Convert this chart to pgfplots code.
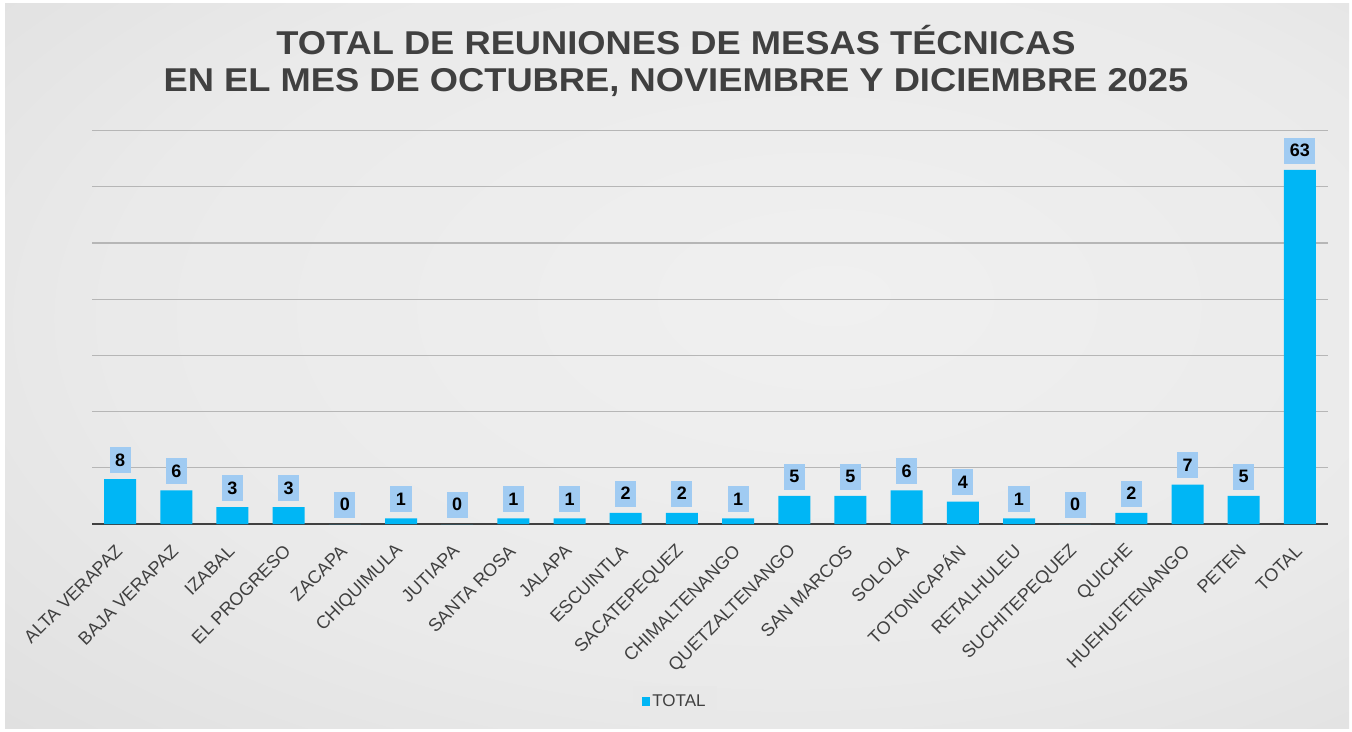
\documentclass[border=0pt]{standalone}
\usepackage{fontspec}
\setmainfont{Liberation Sans}
\newfontfamily\titlefont{Liberation Sans}[FakeStretch=1.1]
\usepackage{pgfplots}
\pgfplotsset{compat=1.18}
\definecolor{barblue}{HTML}{00B6F5}
\definecolor{boxblue}{HTML}{A0CBF2}
\definecolor{txtgray}{HTML}{404040}
\definecolor{gridgray}{HTML}{B6B6B6}
\definecolor{bg0}{HTML}{F0F0F0}
\definecolor{bg1}{HTML}{EAEAEA}
\definecolor{bg2}{HTML}{DCDCDC}
\definecolor{bg3}{HTML}{C9C9C9}
\definecolor{bg4}{HTML}{BEBEBE}
\definecolor{legfill}{HTML}{E8E8E8}
\pgfdeclareradialshading{bgshade}{\pgfpoint{6bp}{5bp}}{color(0bp)=(bg0); color(25bp)=(bg1); color(45bp)=(bg2); color(57bp)=(bg3); color(75bp)=(bg4); color(80bp)=(bg4)}
\pgfplotstableread{
x val
0 8
1 6
2 3
3 3
4 0
5 1
6 0
7 1
8 1
9 2
10 2
11 1
12 5
13 5
14 6
15 4
16 1
17 0
18 2
19 7
20 5
21 63
}\datatab
\begin{document}
\begin{tikzpicture}[x=1pt,y=1pt]
\useasboundingbox (0,0) rectangle (1352,731);
\fill[white] (0,0) rectangle (1352,731);
\shade[shading=bgshade] (5,3) rectangle (1349,727);
\node[anchor=base, font=\titlefont\fontsize{33}{37}\selectfont\bfseries, text=txtgray] at (676,676) {TOTAL DE REUNIONES DE MESAS TÉCNICAS};
\node[anchor=base, font=\titlefont\fontsize{33}{37}\selectfont\bfseries, text=txtgray] at (676,639.3) {EN EL MES DE OCTUBRE, NOVIEMBRE Y DICIEMBRE 2025};
\begin{axis}[
  at={(92pt,207pt)}, anchor=south west,
  scale only axis, width=1236pt, height=393.4pt,
  xmin=-0.5, xmax=21.5, ymin=0, ymax=70,
  ybar, bar width=32pt,
  /pgf/number format/assume math mode=true,
  axis x line*=bottom, axis y line*=left,
  y axis line style={draw=none},
  x axis line style={draw=txtgray, line width=2pt},
  ytick={0,10,...,70}, yticklabels={},
  major tick length=0pt,
  ymajorgrids, grid style={draw=gridgray, line width=1.2pt},
  xtick={0,...,21},
  xticklabels={ALTA VERAPAZ, BAJA VERAPAZ, IZABAL, EL PROGRESO, ZACAPA, CHIQUIMULA, JUTIAPA, SANTA ROSA, JALAPA, ESCUINTLA, SACATEPEQUEZ, CHIMALTENANGO, QUETZALTENANGO, SAN MARCOS, SOLOLA, TOTONICAPÁN, RETALHULEU, SUCHITEPEQUEZ, QUICHE, HUEHUETENANGO, PETEN, TOTAL},
  xticklabel style={yshift=-24pt, xshift=-1pt, rotate=45, anchor=east, font=\fontsize{18}{20}\selectfont, text=txtgray, inner sep=0pt},
  nodes near coords,
  every node near coord/.append style={fill=boxblue, font=\fontsize{18}{20}\selectfont\bfseries, text=black, inner xsep=5.5pt, inner ysep=0pt, minimum height=26pt, anchor=south, yshift=6pt},
  clip=false,
  legend style={at={(0.4717,-0.45)}, anchor=center, draw=none, fill=legfill, font=\fontsize{17}{20}\selectfont, text=txtgray, inner xsep=9pt, inner ysep=6pt},
  legend image code/.code={\fill[barblue] (0pt,-4.5pt) rectangle (8pt,4pt);},
]
\addplot[fill=barblue, draw=none] table[x=x, y=val] {\datatab};
\legend{TOTAL}
\end{axis}
\end{tikzpicture}
\end{document}
